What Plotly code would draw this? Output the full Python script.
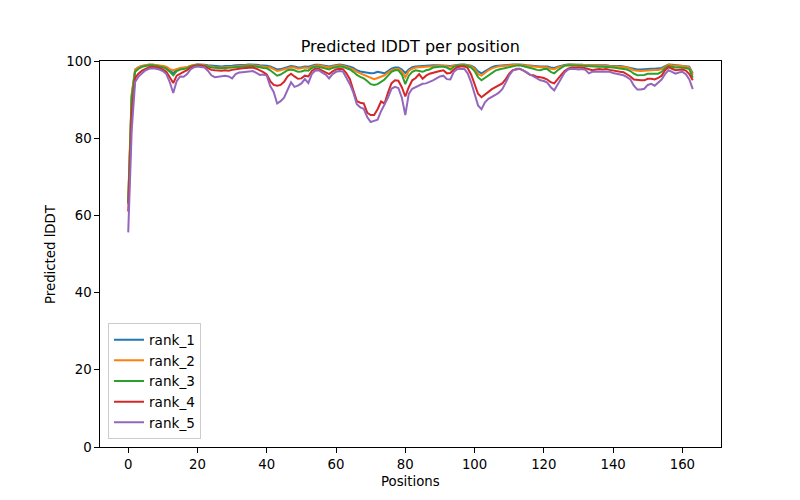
import plotly.graph_objects as go

positions = list(range(164))

rank_1 = [63.0, 91.0, 97.8, 98.4, 98.7, 98.9, 99.0, 99.0, 98.9, 98.8,
          98.6, 98.3, 97.6, 96.8, 97.8, 98.1, 98.2, 98.4, 98.8, 99.0,
          99.1, 99.1, 99.0, 98.9, 98.8, 98.7, 98.6, 98.6, 98.7, 98.7,
          98.8, 98.9, 98.9, 99.0, 99.0, 99.1, 99.1, 99.0, 98.9, 98.9,
          98.8, 98.6, 98.3, 97.8, 97.9, 98.2, 98.5, 98.7, 98.6, 98.3,
          98.4, 98.6, 98.5, 98.8, 99.0, 99.0, 98.9, 98.7, 98.6, 98.8,
          99.0, 99.1, 99.0, 98.8, 98.5, 98.2, 97.6, 97.3, 97.1, 96.9,
          96.8, 96.9, 97.2, 97.0, 96.8, 97.4, 98.0, 98.3, 98.3, 97.8,
          96.9, 97.8, 98.4, 98.6, 98.7, 98.7, 98.8, 98.8, 98.9, 98.9,
          98.9, 98.9, 98.8, 98.7, 98.9, 99.0, 99.1, 99.1, 99.0, 98.8,
          98.3, 97.3, 96.8, 97.4, 98.0, 98.4, 98.7, 98.8, 98.9, 98.9,
          99.0, 99.1, 99.1, 99.1, 99.0, 98.9, 98.8, 98.7, 98.6, 98.6,
          98.6, 98.6, 98.3, 98.2, 98.5, 98.8, 99.0, 99.1, 99.1, 99.1,
          99.0, 99.0, 98.9, 98.9, 99.0, 98.9, 98.9, 98.9, 98.9, 98.8,
          98.8, 98.7, 98.7, 98.6, 98.4, 98.2, 97.9, 97.8, 97.8, 97.9,
          98.0, 98.0, 98.0, 98.1, 98.2, 98.7, 99.1, 99.0, 98.9, 98.8,
          98.8, 98.7, 98.5, 96.8]

rank_2 = [64.5, 91.5, 97.7, 98.4, 98.7, 99.0, 99.1, 99.1, 99.0, 98.9,
          98.7, 98.5, 97.9, 97.6, 98.0, 98.2, 98.3, 98.4, 98.8, 99.0,
          99.1, 99.0, 98.9, 98.8, 98.6, 98.4, 98.3, 98.3, 98.4, 98.4,
          98.5, 98.6, 98.7, 98.8, 98.8, 98.9, 98.9, 98.8, 98.7, 98.6,
          98.5, 98.3, 97.9, 97.4, 97.6, 97.9, 98.3, 98.4, 98.3, 98.0,
          98.1, 98.3, 98.2, 98.6, 98.8, 98.9, 98.7, 98.5, 98.3, 98.6,
          98.8, 98.9, 98.8, 98.5, 98.2, 97.8, 97.2, 96.8, 96.5, 96.0,
          95.5, 95.3, 95.6, 96.0, 96.3, 97.0, 97.6, 97.9, 98.0, 97.3,
          95.8, 97.4, 98.0, 98.3, 98.4, 98.4, 98.5, 98.6, 98.7, 98.7,
          98.8, 98.8, 98.6, 98.5, 98.8, 98.9, 99.0, 99.0, 98.9, 98.6,
          98.0, 96.6, 96.2, 97.0, 97.6, 98.1, 98.4, 98.6, 98.7, 98.8,
          98.9, 99.0, 99.0, 99.0, 98.9, 98.8, 98.6, 98.5, 98.4, 98.4,
          98.4, 98.3, 98.0, 97.9, 98.3, 98.6, 98.9, 99.0, 99.1, 99.0,
          98.9, 99.0, 98.9, 98.8, 98.9, 98.8, 98.8, 98.8, 98.7, 98.7,
          98.6, 98.6, 98.5, 98.5, 98.3, 98.0, 97.6, 97.5, 97.4, 97.5,
          97.6, 97.6, 97.7, 97.7, 97.9, 98.5, 99.0, 98.9, 98.9, 98.8,
          98.7, 98.6, 98.3, 96.4]

rank_3 = [63.5, 90.5, 97.2, 98.0, 98.5, 98.8, 98.9, 98.9, 98.8, 98.6,
          98.4, 98.0, 97.2, 96.3, 97.4, 97.8, 97.9, 98.1, 98.6, 98.9,
          99.0, 98.9, 98.8, 98.6, 98.3, 98.2, 98.1, 98.1, 98.2, 98.2,
          98.3, 98.4, 98.5, 98.6, 98.6, 98.7, 98.7, 98.6, 98.4, 98.2,
          98.1, 97.6, 97.0, 96.2, 96.5, 97.0, 97.6, 97.8, 97.6, 97.2,
          97.3, 97.6, 97.5, 98.2, 98.5, 98.5, 98.3, 98.0, 97.8, 98.2,
          98.5, 98.6, 98.5, 98.2, 97.8, 97.2, 96.4, 95.9, 95.5, 94.8,
          94.0, 93.8, 94.0, 94.6, 95.2, 96.2, 97.2, 97.6, 97.6, 96.5,
          94.0, 96.2, 97.2, 97.6, 97.4, 97.2, 97.6, 97.8, 98.3, 98.5,
          98.5, 98.5, 98.3, 97.8, 98.5, 98.8, 98.9, 98.9, 98.7, 98.3,
          97.4, 95.8, 95.0, 95.6, 96.4, 97.0, 97.5, 97.8, 98.0, 98.2,
          98.5, 98.7, 98.8, 98.9, 98.7, 98.4, 98.1, 98.0, 97.7, 97.6,
          97.9, 97.9, 97.2, 96.8, 97.6, 98.2, 98.8, 98.9, 98.9, 98.9,
          98.8, 98.8, 98.7, 98.6, 98.6, 98.5, 98.5, 98.5, 98.5, 98.4,
          98.3, 98.2, 98.1, 98.0, 97.8, 97.4, 96.7, 96.3, 96.3, 96.4,
          96.7, 96.7, 96.6, 96.7, 97.2, 98.2, 98.7, 98.5, 98.3, 98.3,
          98.3, 98.2, 97.9, 95.7]

rank_4 = [61.0, 86.5, 95.6, 96.8, 97.5, 98.0, 98.4, 98.5, 98.4, 98.2,
          97.8, 97.2, 95.8, 94.3, 96.2, 96.8, 97.2, 97.6, 98.3, 98.7,
          98.8, 98.8, 98.6, 98.2, 97.7, 97.6, 97.5, 97.5, 97.6, 97.5,
          97.7, 97.9, 98.0, 98.1, 98.2, 98.2, 98.3, 98.0, 97.6, 97.1,
          96.5, 94.8, 93.8, 93.6, 93.8, 94.6, 96.0, 96.7, 96.0, 95.4,
          95.5, 96.2, 96.0, 97.4, 98.0, 98.0, 97.5, 97.0, 96.6, 97.3,
          97.8, 98.0, 97.9, 96.8, 95.3, 92.4, 89.6, 89.2, 89.0, 86.6,
          86.0, 86.0, 87.5, 89.5, 89.0, 91.8, 94.2, 95.0, 94.9, 93.2,
          90.8, 93.2, 95.0, 95.6, 96.6, 95.4, 96.2, 96.7, 97.0, 97.2,
          97.4, 97.6, 96.8, 96.9, 97.8, 98.4, 98.6, 98.6, 98.2, 96.5,
          94.0, 91.5, 90.6, 91.2, 92.0, 92.7, 93.2, 93.6, 94.2, 95.3,
          96.7, 97.6, 97.9, 98.0, 97.6, 97.0, 96.4, 96.3, 95.9, 95.8,
          95.6, 95.2, 94.5, 94.2, 95.4, 96.4, 97.4, 98.0, 98.3, 98.3,
          98.2, 98.3, 98.1, 97.8, 97.6, 97.8, 97.9, 97.8, 97.9, 97.7,
          97.5, 97.4, 97.2, 97.1, 96.6, 96.0, 95.2, 95.0, 95.0, 95.0,
          95.4, 95.4, 95.2, 95.6, 96.2, 97.6, 98.4, 98.0, 97.6, 97.7,
          97.8, 97.5, 96.6, 95.0]

rank_5 = [55.6, 82.0, 94.6, 96.0, 96.8, 97.6, 98.0, 98.1, 98.0, 97.8,
          97.4, 96.6, 94.5, 91.7, 94.8, 96.0, 95.9, 96.6, 97.8, 98.4,
          98.6, 98.5, 98.3, 97.5, 96.3, 95.8, 95.9, 96.0, 96.2, 96.0,
          95.5, 96.6, 97.0, 97.1, 97.2, 97.2, 97.4, 96.9, 96.4, 96.5,
          96.2, 93.5, 92.0, 89.0, 89.6, 90.5, 92.5, 94.5, 93.3, 93.6,
          94.2, 95.3, 94.3, 96.6, 97.5, 97.6, 97.0, 96.5, 95.5, 96.6,
          97.2, 97.4, 97.3, 95.8, 94.0, 91.8, 88.8, 88.0, 87.6, 85.5,
          84.2, 84.5, 84.8, 87.0, 88.8, 90.5, 92.8, 93.3, 93.0, 90.5,
          86.0, 91.5, 92.8, 93.3, 93.8, 94.1, 94.2, 94.5, 95.0, 95.5,
          96.0, 96.2, 95.3, 95.2, 97.2, 97.9, 98.0, 98.0, 96.8, 94.5,
          91.5, 88.5, 87.5, 89.3, 90.2, 90.6, 91.2, 91.8, 92.7, 94.4,
          96.3, 97.5, 98.0, 98.0, 97.6, 97.1, 96.5, 96.0, 95.3, 95.0,
          94.8, 94.4, 93.2, 92.4, 93.9, 95.3, 97.0, 97.8, 98.0, 97.9,
          97.8, 97.9, 97.7, 96.8, 97.2, 97.3, 97.3, 97.2, 97.3, 97.2,
          96.9, 96.7, 96.5, 96.3, 95.8, 95.2, 93.6, 92.6, 92.6, 92.8,
          93.8, 94.1, 93.6, 94.3, 95.2, 96.6, 97.6, 97.2, 96.7, 97.0,
          97.2, 96.6, 95.2, 92.7]

series_names = ["rank_1", "rank_2", "rank_3", "rank_4", "rank_5"]
series_values = [rank_1, rank_2, rank_3, rank_4, rank_5]
colors = ["#1f77b4", "#ff7f0e", "#2ca02c", "#d62728", "#9467bd"]

x_ticks = [0, 20, 40, 60, 80, 100, 120, 140, 160]
y_ticks = [0, 20, 40, 60, 80, 100]

FONT = "DejaVu Sans"

fig = go.Figure()
for name, vals, col in zip(series_names, series_values, colors):
    fig.add_trace(go.Scatter(x=positions, y=vals, mode="lines", name=name,
                             line=dict(color=col, width=2)))

L, R, T, B = 100, 79.3, 60.7, 53.3
W, H = 800, 500
pw = W - L - R
ph = H - T - B

axis_common = dict(showline=True, linecolor="black", linewidth=1, mirror=True,
                   ticks="outside", ticklen=4.7, tickwidth=1, tickcolor="black",
                   showgrid=False, zeroline=False,
                   tickfont=dict(family=FONT, size=13.3, color="black"))

fig.update_layout(
    width=W, height=H,
    margin=dict(l=L, r=R, t=T, b=B, pad=0),
    paper_bgcolor="white", plot_bgcolor="white",
    font=dict(family=FONT, size=13.3, color="black"),
    title=dict(text="Predicted lDDT per position", x=(L + pw / 2) / W, xanchor="center",
               y=1 - 46 / H, yanchor="middle", font=dict(family=FONT, size=16, color="black")),
    xaxis=dict(range=[-8.15, 171.15], tickvals=x_ticks, **axis_common),
    yaxis=dict(range=[0, 100], tickvals=y_ticks, **axis_common),
    legend=dict(x=8 / pw, y=(446.7 - 439) / ph, xanchor="left", yanchor="bottom",
                bgcolor="rgba(255,255,255,0.8)", bordercolor="#cccccc", borderwidth=1,
                font=dict(family=FONT, size=13.6, color="black"), itemwidth=30,
                tracegroupgap=0),
    showlegend=True,
    annotations=[
        dict(text="Positions", xref="paper", yref="paper", x=0.5, y=-(481 - 446.7) / ph,
             xanchor="center", yanchor="middle", showarrow=False,
             font=dict(family=FONT, size=13.3, color="black")),
        dict(text="Predicted lDDT", xref="paper", yref="paper", x=-(100 - 50) / pw, y=0.5,
             xanchor="center", yanchor="middle", textangle=-90, showarrow=False,
             font=dict(family=FONT, size=13.3, color="black")),
    ],
)

fig.write_html("out.html", config={"displayModeBar": False},
               post_script="document.body.style.margin='0';")
